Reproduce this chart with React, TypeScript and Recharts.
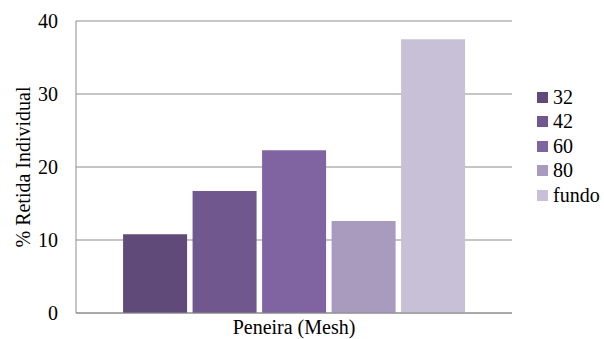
import React from "react"
import { BarChart, Bar, XAxis, YAxis, CartesianGrid, Label } from "recharts"

const categories = ["Peneira (Mesh)"]
const meshSizes = ["32", "42", "60", "80", "fundo"]
const retainedPct = [10.8, 16.7, 22.3, 12.6, 37.5]
const yTicks = [0, 10, 20, 30, 40]
const COLORS = ["#5f4a7a", "#70578d", "#8064a2", "#a99bbe", "#c8c0d6"]

const FONT =
  "'Liberation Serif', 'Times New Roman', Times, Tinos, 'Nimbus Roman', 'Noto Serif', 'DejaVu Serif', FreeSerif, Georgia, serif"
const GRID = "#8c8c8c"

const data = categories.map((name) => {
  const row: Record<string, string | number> = { name }
  meshSizes.forEach((m, i) => {
    row[`m${i}`] = retainedPct[i]
  })
  return row
})

// legend sits outside the chart so it doesn't eat into the plot area
function SeriesLegend() {
  return (
    <div
      style={{
        position: "absolute",
        left: 537,
        top: 85,
        fontFamily: FONT,
        fontSize: 20,
        color: "#000",
      }}
    >
      {meshSizes.map((m, i) => (
        <div key={m} style={{ display: "flex", alignItems: "center", height: 24.5 }}>
          <span
            style={{
              display: "inline-block",
              width: 11,
              height: 11,
              background: COLORS[i],
              marginRight: 5,
            }}
          />
          <span>{m}</span>
        </div>
      ))}
    </div>
  )
}

export default function App() {
  return (
    <div style={{ position: "absolute", left: 0, top: 0, width: 604, height: 339, background: "#fff" }}>
      <BarChart
        width={604}
        height={339}
        data={data}
        margin={{ top: 21, right: 92, bottom: 0, left: 0 }}
        barCategoryGap="10.8%"
        barGap={5.5}
      >
        <CartesianGrid vertical={false} stroke={GRID} />
        <XAxis
          dataKey="name"
          tick={false}
          tickLine={false}
          axisLine={{ stroke: GRID }}
          height={26}
        >
          <Label
            content={({ viewBox }: any) => (
              <text
                x={viewBox.x + viewBox.width / 2}
                y={viewBox.y + 14}
                textAnchor="middle"
                dominantBaseline="central"
                fontFamily={FONT}
                fontSize={20}
                fill="#000"
              >
                {categories[0]}
              </text>
            )}
          />
        </XAxis>
        <YAxis
          width={76}
          domain={[0, 40]}
          ticks={yTicks}
          interval={0}
          tickLine={false}
          tickMargin={12}
          axisLine={{ stroke: GRID }}
          tick={{ fontFamily: FONT, fontSize: 20, fill: "#000" }}
        >
          <Label
            content={({ viewBox }: any) => {
              const cx = viewBox.x + 23
              const cy = viewBox.y + viewBox.height / 2
              return (
                <text
                  x={cx}
                  y={cy}
                  transform={`rotate(-90 ${cx} ${cy})`}
                  textAnchor="middle"
                  dominantBaseline="central"
                  fontFamily={FONT}
                  fontSize={20}
                  fill="#000"
                >
                  % Retida Individual
                </text>
              )
            }}
          />
        </YAxis>
        {meshSizes.map((m, i) => (
          <Bar key={m} dataKey={`m${i}`} name={m} fill={COLORS[i]} isAnimationActive={false} />
        ))}
      </BarChart>
      <SeriesLegend />
    </div>
  )
}
